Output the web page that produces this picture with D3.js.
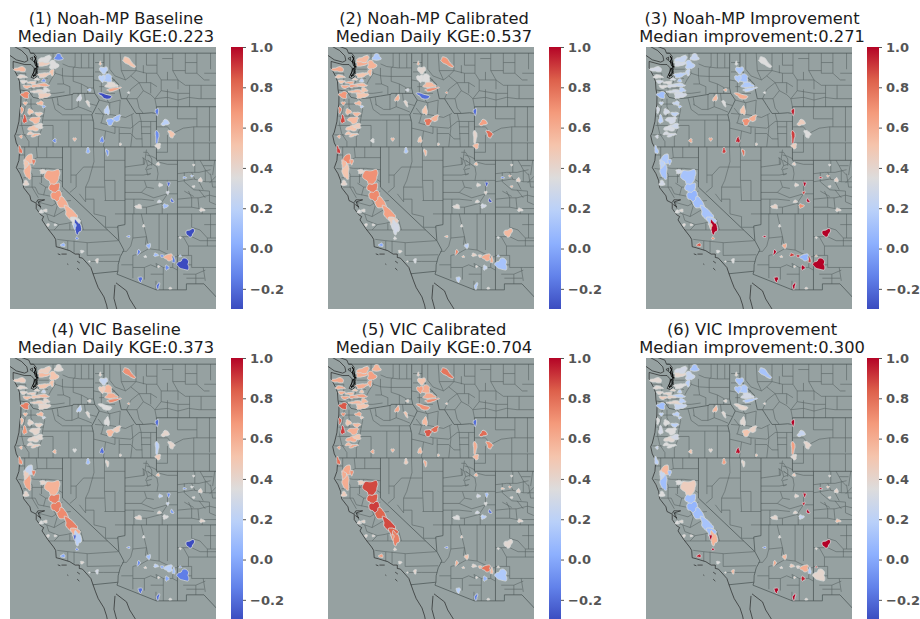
<!DOCTYPE html>
<html>
<head>
<meta charset="utf-8">
<script src="https://cdn.jsdelivr.net/npm/d3@7"></script>
<style>
  html, body { margin: 0; padding: 0; background: #fff; overflow: hidden; }
  .title { font-family: "DejaVu Sans", sans-serif; font-size: 16.3px; fill: #1c1c1c; text-anchor: middle; }
  .cbar text { font-family: "DejaVu Sans", sans-serif; font-weight: bold; font-size: 13px; fill: #555; }
  .cbar line { stroke: #555; }
  .cbar path { display: none; }
</style>
</head>
<body>
<div id="chart"></div>
<script>
var titles = [
  ["(1) Noah-MP Baseline", "Median Daily KGE:0.223"],
  ["(2) Noah-MP Calibrated", "Median Daily KGE:0.537"],
  ["(3) Noah-MP Improvement", "Median improvement:0.271"],
  ["(4) VIC Baseline", "Median Daily KGE:0.373"],
  ["(5) VIC Calibrated", "Median Daily KGE:0.704"],
  ["(6) VIC Improvement", "Median improvement:0.300"]
];
var colorbarTicks = [-0.2, 0, 0.2, 0.4, 0.6, 0.8, 1.0];

// basins: lon, lat, half width (deg lon), half height (deg lat), tilt
var basins = [
  [-120.37,48.69,.38,.25,0],[-121.79,48.24,.57,.2,0],[-120.84,48.12,.44,.3,45],[-124.02,47.79,.57,.17,0],[-123.86,47.25,.44,.12,0],
  [-121.79,47.37,.57,.17,-10],[-121.0,47.57,.19,.25,0],[-121.95,46.62,.7,.12,0],[-122.59,46.55,.44,.1,0],[-123.38,46.5,.38,.12,0],
  [-123.54,45.88,.38,.25,0],[-121.79,46.95,.19,.12,0],[-121.79,45.88,.57,.25,0],[-123.54,45.26,.19,.12,0],[-122.11,45.26,.32,.15,0],
  [-123.6,44.06,.19,.32,0],[-123.86,44.76,.13,.25,0],[-122.59,44.01,.48,.25,0],[-122.75,43.39,.51,.2,0],[-122.59,42.89,.44,.1,-15],
  [-121.79,45.01,.16,.1,0],[-123.95,42.77,.13,.12,0],[-124.02,41.77,.16,.3,-15],[-123.16,41.08,.44,.35,40],[-122.75,40.9,.16,.2,0],
  [-123.29,40.16,.32,.55,0],[-123.48,39.29,.25,.2,0],[-121.79,40.16,.38,.15,0],[-120.94,39.78,.7,.55,0],[-120.75,38.91,.5,.4,30],
  [-120.52,38.29,.6,.38,50],[-119.98,37.79,.6,.35,50],[-119.25,37.05,.75,.32,52],[-118.78,36.43,.5,.3,60],[-118.56,36.0,.32,.5,-10],
  [-118.84,36.1,.13,.2,0],[-121.63,37.25,.19,.1,0],[-122.02,37.17,.19,.12,0],[-120.68,36.18,.13,.07,0],[-121.38,36.18,.13,.1,0],
  [-119.95,34.68,.22,.12,0],[-118.62,35.18,.13,.1,0],[-118.14,34.19,.16,.1,0],[-116.71,33.51,.13,.17,0],[-117.44,33.44,.07,.05,0],
  [-118.4,45.63,.19,.25,30],[-117.57,45.26,.13,.25,-25],[-117.44,46.25,.16,.1,0],[-116.4,48.24,.1,.15,0],[-113.7,48.34,.7,.2,40],
  [-116.08,47.74,.38,.25,0],[-115.76,47.12,.51,.3,0],[-115.35,46.62,.57,.2,0],[-115.13,46.3,.63,.12,-12],[-115.92,45.8,.63,.17,20],
  [-115.76,44.71,.25,.3,0],[-115.44,43.89,.38,.25,-40],[-114.81,44.14,.38,.2,-35],[-113.7,46.05,.1,.07,0],[-116.24,42.52,.19,.22,0],
  [-114.49,42.2,.1,.1,0],[-118.84,42.57,.16,.12,0],[-120.75,42.47,.16,.15,0],[-117.57,41.72,.16,.22,0],[-115.73,41.6,.13,.25,-15],
  [-111.0,44.63,.16,.25,0],[-110.21,43.81,.38,.2,-25],[-109.63,42.97,.25,.3,-30],[-111.0,42.77,.16,.5,0],[-110.9,42.07,.25,.2,0],
  [-110.9,40.73,.16,.12,0],[-110.68,39.16,.19,.12,0],[-109.89,39.24,.13,.17,0],[-109.57,37.99,.13,.17,-30],[-110.78,37.92,.19,.1,0],
  [-110.21,37.59,.25,.15,0],[-109.98,38.59,.13,.12,0],[-112.75,37.54,.32,.15,0],[-108.37,39.71,.16,.07,0],[-107.67,39.83,.13,.07,0],
  [-107.51,39.04,.13,.07,0],[-106.87,39.53,.19,.15,0],[-106.71,37.3,.25,.12,0],[-107.51,40.65,.1,.07,0],[-113.7,35.31,.16,.07,0],
  [-112.27,36.1,.1,.1,0],[-107.83,35.6,.44,.25,-40],[-108.78,35.23,.1,.07,0],[-108.46,33.24,.54,.42,0],[-108.78,33.86,.1,.07,0],
  [-112.75,34.14,.13,.2,15],[-111.79,34.61,.19,.17,0],[-112.11,33.81,.13,.07,0],[-111.1,33.94,.22,.12,0],[-110.52,33.86,.16,.1,0],
  [-109.89,33.76,.38,.25,0],[-109.41,33.56,.13,.25,0],[-110.05,32.99,.19,.17,0],[-112.59,32.12,.19,.2,0],[-110.9,31.62,.13,.25,15],
  [-109.73,31.45,.13,.07,0],[-110.84,33.07,.1,.07,0],
  [-121.63,48.54,.6,.22,-15],[-122.27,46.13,.7,.12,0],[-121.57,46.25,.3,.18,0],[-123.7,46.87,.3,.12,0],[-122.9,46.8,.4,.1,0],
  [-122.43,47.05,.25,.08,0],[-123.06,44.63,.28,.2,0],[-122.27,44.46,.35,.15,0],[-122.2,43.56,.35,.2,0],[-123.06,43.0,.3,.12,0],
  [-123.48,40.73,.22,.28,0],[-116.24,47.12,.3,.25,0]
];

var noahBaseKge = [
  -.1,.45,.35,.55,.4, .45,.5,.6,.55,.55, .72,-.05,.45,.55,.55, .85,.65,.55,.5,.55,
  .05,.6,.78,.55,.75, .58,.4,.4,.62,.72, .68,.6,.58,.35,-.28, .1,.38,.35,.35,.38,
  .05,-.1,.35,.38,.35, .3,.38,.1,.5,.5, .2,.15,.38,.62,-.3, .2,.05,.1,.35,-.1,
  .4,.55,-.1,.05,-.05, -.15,.2,.5,-.1,.38, .38,.35,-.2,-.2,.3, .1,.3,.38,0,.1,
  .38,.4,.38,.4,-.05, .38,-.3,.38,-.3,.05, -.15,.05,.35,.1,-.1, .58,-.15,-.1,-.2,-.2,
  .4,.4,
  .35,.4,.35,.38,.45, .38,.5,.45,.38,.45, .5,.2
];
var noahCalKge = [
  .15,.6,.58,.62,.5, .5,.55,.55,.65,.6, .68,.2,.5,.6,.55, .88,.75,.55,.5,.5,
  .2,.6,.9,.72,.65, .5,.4,.4,.7,.75, .72,.65,.65,.45,.3, .3,.38,.35,.38,.38,
  0,.35,.38,.32,.4, .58,.4,.3,.55,.68, .38,.35,.55,.72,-.2, .5,.78,.58,.68,.5,
  .45,.55,.35,.15,.55, -.2,.65,.8,.4,.55, .5,.38,-.25,-.3,.38, .3,.4,.38,-.1,.6,
  .55,.42,.38,.42,.55, .38,.55,.35,.12,.1, .72,.2,.5,.42,.45, .6,.6,.25,.2,.15,
  .38,.4,
  .55,.55,.5,.5,.6, .45,.55,.55,.45,.5, .55,.35
];
var noahGain = [
  .25,.3,.2,.3,.35, .2,.25,.25,.3,.35, .1,.15,.3,.25,.25, .2,.3,.3,.32,.3,
  .15,.3,.15,.15,.1, .12,.3,.3,.12,.1, .05,.1,.12,.15,1, .55,.38,.35,.38,.38,
  .85,.7,.35,.35,.4, .55,.35,.6,.35,.35, .15,.12,.15,.2,.6, .5,.7,.6,.35,.95,
  .42,.62,.6,.9,.8, .95,.45,.35,.9,.45, .42,.4,1,1,.4, .7,.9,.42,.95,.6,
  .4,.42,.4,.38,1, .38,1,.4,1,.6, 1,.6,.45,.9,.95, .05,.9,1,1,1,
  .42,.42,
  .25,.3,.2,.3,.35, .3,.3,.22,.28,.32, .2,.15
];
var vicBaseKge = [
  .38,.55,.5,.45,.4, .5,.5,.55,.5,.52, .75,.25,.4,.55,.55, .68,.55,.4,.4,.45,
  .3,.55,.7,.25,.75, .62,.4,.4,.58,.75, .75,.72,.75,.6,.2, -.2,.38,.35,.38,.38,
  0,-.1,.38,.3,.35, .2,.38,.4,.4,.7, .25,.55,.6,.72,.35, .35,.55,.45,.6,-.2,
  .4,.35,.55,.1,.4, -.2,.4,.4,.2,.45, .5,.2,-.1,-.05,.4, .35,.25,.4,-.05,.35,
  .38,.4,.4,.38,-.05, .35,-.3,.38,-.15,-.1, -.1,.1,.4,.2,0, .2,.1,0,-.2,-.2,
  .38,.4,
  .45,.45,.4,.4,.45, .4,.4,.42,.38,.4, .45,.45
];
var vicCalKge = [
  .58,.6,.65,.62,.6, .6,.62,.65,.65,.62, .85,.5,.5,.7,.6, .9,.85,.6,.6,.62,
  .45,.65,.8,.62,.7, .6,.45,.45,.88,.85, .9,.82,.88,.82,.75, .7,.42,.38,.4,.4,
  .65,.4,.38,.4,.4, .62,.5,.42,.45,.78, .5,.6,.62,.72,.7, .55,.85,.8,.45,.55,
  .5,.55,.6,.45,.6, -.2,.8,.7,.6,.55, .55,.3,.1,-.2,.3, .2,.35,.35,.5,.6,
  .4,.4,.4,.4,-.1, .45,.38,.38,.15,.4, .58,.5,.45,.4,.55, .78,.55,.05,.18,-.15,
  .4,.4,
  .6,.55,.55,.6,.55, .5,.5,.55,.5,.55, .6,.65
];
var vicGain = [
  .12,.4,.25,.38,.38, .35,.2,.2,.42,.45, .1,.2,.25,.2,.2, .3,.35,.35,.38,.35,
  .2,.25,.2,.55,.1, .1,.35,.35,.45,.1, .05,.1,.12,.1,.58, 1,.38,.35,.38,.38,
  .95,.98,.35,.55,.4, .55,.38,.4,.4,.12, .12,.15,.3,.15,.4, .38,.5,.42,.4,.98,
  .5,.4,.5,.65,.4, 1,.25,.4,.65,.38, .45,.4,.98,1,.4, .25,.95,.4,.98,.5,
  .42,.4,.5,.4,-.1, .38,1,.4,.4,.9, .6,.55,.4,.45,.4, .6,.15,.95,1,1,
  .4,.42,
  .3,.4,.2,.38,.4, .4,.35,.2,.3,.35, .25,.12
];
var panelValues = [noahBaseKge, noahCalKge, noahGain, vicBaseKge, vicCalKge, vicGain];

// coast and islands, drawn black
var coastLines = [
  [[-124.7,48.38],[-124.7,47.9],[-124.3,47.3],[-124.1,46.9],[-124.05,46.3],[-123.95,45.9],[-123.97,45.2],[-124.07,44.6],[-124.15,43.9],[-124.4,43.1],[-124.55,42.84],[-124.4,42.3],[-124.2,42],[-124.1,41.5],[-124.15,41],[-124.4,40.45],[-124.05,40],[-123.8,39.5],[-123.7,38.95],[-123.1,38.35],[-123,38],[-122.5,37.8],[-122.5,37.4],[-122.1,36.95],[-121.8,36.8],[-121.95,36.55],[-121.4,35.9],[-120.85,35.35],[-120.65,35.1],[-120.6,34.55],[-120.2,34.47],[-119.3,34.25],[-118.8,34],[-118.4,34],[-118.4,33.75],[-118.1,33.7],[-117.3,33],[-117.1,32.55],[-116.85,32],[-116.6,31.5],[-116.05,30.8],[-115.8,30.2],[-115.7,29.8]],
  [[-125,48.83],[-124.4,48.5],[-123.6,48.33],[-123.3,48.45],[-123.4,48.8],[-123.9,49.2],[-124.6,49.5]],
  [[-123.9,49.5],[-123.2,49.3],[-123.05,49],[-122.75,49],[-122.5,48.75],[-122.6,48.4],[-122.3,48.1],[-122.4,47.7],[-122.4,47.3],[-122.7,47.1],[-123,47.2],[-122.7,47.6],[-122.7,47.9],[-123,48.15],[-123.6,48.15],[-124.7,48.38]],
  [[-123.1,48.6],[-122.85,48.7],[-122.85,48.45],[-123.1,48.6]],
  [[-122.5,37.85],[-122.35,38.05],[-122,38.05],[-121.7,38.05],[-122.3,37.9],[-122.2,37.6],[-122.05,37.5],[-122.4,37.7]],
  [[-120.45,34.02],[-120.2,33.95]],[[-120.1,34],[-119.6,34]],[[-119.55,33.27],[-119.45,33.22]],[[-118.6,33.47],[-118.35,33.33]],[[-118.6,32.95],[-118.4,32.8]],
  [[-115,31.7],[-115.1,30.7],[-114.8,29.8]],
  [[-114.9,31.85],[-113.9,31.25],[-113.6,30.65],[-113,29.9]]
];

// the inlets of Puget Sound, a bit heavier than the open coast
var pugetLines = [
  [[-122.7,48.4],[-122.5,48.2],[-122.35,47.95],[-122.55,48.05],[-122.7,48.4]],
  [[-122.6,47.9],[-122.45,47.6],[-122.6,47.3],[-122.85,47.35],[-122.6,47.9]],
  [[-122.75,48.35],[-122.55,48.6],[-122.7,48.8],[-122.5,48.45],[-122.45,48],[-122.55,47.55],[-122.8,47.2]]
];

var stateLines = [
  [[-123.05,49],[-105,49]],
  [[-124,46.25],[-123.2,46.15],[-122.8,45.7],[-122.2,45.6],[-121.2,45.65],[-120,45.8],[-119,45.93],[-118.98,46],[-116.92,46]],
  [[-117.03,49],[-117.04,46.4],[-116.92,46],[-116.5,45.5],[-116.8,45],[-117.2,44.4],[-117.03,43.8],[-117.03,42]],
  [[-124.2,42],[-111.05,42]],
  [[-120,42],[-120,39],[-114.63,35],[-114.15,34.3],[-114.5,33.8],[-114.7,33.2],[-114.72,32.72]],
  [[-117.12,32.53],[-114.72,32.72],[-114.81,32.5],[-111.07,31.33],[-108.2,31.33],[-108.2,31.78],[-106.53,31.78],[-105,30.5]],
  [[-114.05,42],[-114.05,36.2],[-114.74,36.1],[-114.63,35]],
  [[-114.05,37],[-105,37]],
  [[-109.05,41],[-109.05,31.33]],
  [[-111.05,45],[-111.05,41],[-105,41]],
  [[-111.05,45],[-105,45]],
  [[-116.05,49],[-116.05,48],[-115.7,47.5],[-114.7,46.7],[-114.4,45.6],[-113.9,45.6],[-113.5,45.1],[-113,44.5],[-112.3,44.5],[-111.5,44.55],[-111.05,44.5]]
];

var countyLines = [
  // washington
  [[-120.9,49],[-120.9,48.3],[-120.7,47.5],[-121.1,47],[-121.5,46.4],[-121.4,45.7]],
  [[-118.8,49],[-118.8,48],[-118.98,47.9],[-118.98,46.9],[-118.2,46.7],[-117.5,46.4],[-117.04,46.4]],
  [[-118.2,49],[-118.2,47.9]],[[-117.5,49],[-117.5,47.9]],
  [[-120,48.2],[-119.4,48],[-118.3,47.9],[-117.04,47.9]],
  [[-120,47.9],[-120,47.3],[-119.9,46.7],[-119.3,46.5],[-119.3,45.93]],
  [[-118.98,47.26],[-117.04,47.26]],[[-120.7,47.5],[-119.9,47.3],[-118.98,47.26]],
  [[-122.3,48.3],[-120.9,48.3]],[[-122.3,47.8],[-121.3,47.8]],[[-122.6,46.4],[-121.5,46.4]],
  [[-123.5,46.4],[-122.9,46.4],[-122.9,45.9]],[[-123.5,47.5],[-123.5,46.4]],[[-124.4,47.5],[-123.5,47.5]],
  [[-122.3,47.3],[-121.4,47.1]],[[-122.6,46.4],[-122.3,47.05],[-122.3,47.3]],[[-120.5,46.7],[-119.9,46.7]],[[-121.5,46],[-120.7,46],[-119.8,46.1]],
  [[-118.2,46.7],[-118.2,46]],[[-117.6,46.4],[-117.6,46]],
  // oregon
  [[-122,45.6],[-121.7,44.8],[-121.9,44],[-122,43.3],[-122.3,42.7],[-122.3,42]],
  [[-123.4,46.1],[-123.5,45.2],[-123.7,44.5],[-123.9,43.7],[-123.7,43],[-123.2,42.4],[-123.2,42]],
  [[-123.9,45.2],[-122.2,45.2]],[[-124,44.3],[-121.8,44.3]],[[-124.1,43.6],[-120.9,43.6]],[[-124.4,42.9],[-122.3,42.9]],
  [[-123,45.6],[-123,45],[-122.8,44.7],[-123,44.3]],
  [[-121,45.65],[-120.7,44.8],[-120,44.4],[-119,44.4],[-118.3,44.4],[-117.2,44.4]],
  [[-121.9,44],[-119.9,44],[-118.2,44],[-117.03,44]],
  [[-120.9,43.6],[-120.9,42]],[[-119.4,44],[-119.4,42]],[[-118.2,44.4],[-118.2,42]],
  [[-119.1,45.93],[-119.1,44.8],[-119.7,44.8],[-120.5,45.2]],[[-118.5,46],[-118.5,45],[-119.1,44.8]],[[-117.9,46],[-117.8,45.3],[-116.8,45.1]],
  [[-118.5,45],[-117.8,44.8],[-117.2,44.6]],[[-120.5,45.7],[-120.4,45.1]],
  // california
  [[-123.6,42],[-123.6,41],[-123.4,40.3],[-122.9,40],[-122.9,39],[-122.3,38.2]],
  [[-124.1,41.4],[-123.6,41.4]],[[-124.2,40.4],[-123.4,40.3]],[[-123.7,39.7],[-122.9,39.7]],[[-123.6,39],[-122.6,39]],
  [[-122.5,42],[-122.4,41.2],[-121.4,41.2],[-120,41.2]],
  [[-123,40.45],[-122.6,40.4],[-121.4,40.4],[-120,40.3]],[[-122.9,39.8],[-121.9,39.8],[-121,39.9],[-120,39.4]],
  [[-122.2,39.3],[-121.6,39],[-120.5,39]],[[-122.3,38.5],[-121,38.3],[-120,38.7]],[[-122.4,37.9],[-121,37.6],[-120.4,37.9],[-119.2,38]],
  [[-122.2,37.2],[-121.5,37],[-120.8,36.8],[-119.5,37.4]],[[-121.3,36.5],[-120.3,36.2],[-119.5,36.3],[-118.3,36.6]],
  [[-121.3,35.8],[-119.9,35.8],[-118,35.8],[-115.7,35.8]],[[-120.5,35.1],[-119.5,35],[-117.6,34.85],[-114.7,35]],
  [[-118.9,35],[-118.9,34.1]],[[-117.65,34.85],[-117.65,33.9]],[[-119.5,35],[-119.5,34.3]],[[-117.3,33.45],[-116.1,33.45],[-114.6,33.45]],
  [[-117.65,33.9],[-114.5,33.95]],[[-121.8,38.4],[-121.6,39]],[[-121,38.3],[-120.5,37.6],[-120.8,36.8]],[[-120.3,36.2],[-120.8,35.8]],
  [[-120.7,39.9],[-120.6,39]],[[-121.6,40.4],[-121.9,39.8]],[[-119.5,37.4],[-119.9,38]],[[-118.3,36.6],[-118,35.8]],[[-119.3,36.3],[-119.3,35.8]],
  [[-121.5,42],[-121.5,41.2]],[[-123,41],[-122.4,41.2]],[[-122,40.4],[-122,39.3]],[[-122.3,38.5],[-122.6,39]],[[-122.2,37.9],[-122,37.2]],[[-121.5,37],[-121.3,36.5]],
  // nevada
  [[-119.2,42],[-119.2,39.3]],[[-117.05,42],[-117,40.9],[-117.5,39.5],[-117.8,39]],[[-116,42],[-116,39.5],[-115.9,38]],
  [[-119.2,39.9],[-118.7,39.9],[-118,40.5],[-117,40.5],[-116,40.5]],[[-116,39.5],[-115,39.5],[-115,38],[-114.05,38]],
  [[-117.8,39],[-117.8,37.9],[-118.4,38.5]],[[-117.8,39],[-116,39]],[[-116,38],[-115,38]],[[-117.8,38.1],[-117,38.1],[-117,37],[-115.9,36.8],[-115.9,36],[-114.7,36]],
  [[-118.7,39.9],[-118.7,39]],[[-118.7,39],[-119.3,38.6]],[[-115,41],[-114.05,41]],[[-116,41],[-115,41]],[[-115,37],[-114.05,37]],
  // idaho
  [[-116.3,46],[-115,46]],[[-117.04,47],[-116.3,46.9],[-115,47]],[[-116.9,47.6],[-116.05,47.6]],[[-116.5,45.5],[-115.5,45.3],[-114.5,45.5]],
  [[-116.9,44.5],[-115.3,44.4],[-114,44.2],[-113.2,44.5]],[[-116.4,43.8],[-115,43.5],[-113.5,43.4],[-112.7,43.9],[-111.05,43.9]],
  [[-116.1,42],[-115.9,43.2],[-115,43],[-115,43.5]],[[-114.6,42],[-114.6,43.4]],[[-113.5,42],[-113.3,43.4],[-113.4,44.4]],
  [[-112.4,42],[-112.5,43.9],[-112.7,44.5]],[[-111.6,42],[-111.6,43.9]],[[-117,43.4],[-115.9,43.2]],[[-116.1,44.4],[-116.3,43.8]],[[-114.5,45.5],[-114.6,44.4]],
  [[-116.3,46.9],[-116.3,46]],[[-115.5,44.4],[-115.5,45.3]],[[-114.6,43],[-113.5,43]],[[-112.5,43],[-111.6,43]],
  [[-116.9,48.3],[-116.05,48.3]],[[-116.5,46.5],[-115.6,46.5]],[[-116.6,44.9],[-116.1,44.4]],[[-116,45.9],[-115.6,45.3]],[[-113.5,43],[-113,42.6],[-112.4,42.6]],[[-112.5,43.5],[-111.6,43.5]],
  // montana
  [[-115.5,49],[-115.5,47.8],[-115,47.3],[-114,47]],[[-114.5,49],[-114.4,47.7],[-114,47]],
  [[-113,49],[-113,47.7],[-113.5,47.3],[-112.7,46.8],[-112.3,46.2],[-112.9,45.6],[-113.9,45.6]],
  [[-112,49],[-112,48.1],[-111,48.1]],[[-111,49],[-111,47.5],[-110.6,47],[-110.6,46.2],[-111.2,45.6],[-111.05,45]],
  [[-109.5,49],[-109.5,47.7],[-109,47]],[[-108.3,49],[-108.3,47.5],[-107.2,47.5]],[[-107.2,49],[-107.2,47.5],[-106.5,47],[-106,47]],
  [[-110.6,47],[-109,47],[-108.3,46.6],[-107,46.6],[-105,46.6]],[[-112.7,46.8],[-111.6,46.8],[-111,46.5]],
  [[-111.2,45.6],[-110,45.7],[-109,45.5],[-108,45.7],[-107,45.6],[-105,45.6]],[[-110,46.3],[-110,45]],[[-109,46],[-109,45]],[[-107.9,46.6],[-107.9,45]],
  [[-106.5,47.5],[-105,47.5]],[[-105.9,49],[-105.9,47.8]],[[-113,47.7],[-112,47.5],[-111,47.5]],[[-112.3,46.2],[-111.6,45.9],[-111.2,45.6]],
  [[-112.9,45.6],[-112.7,44.9],[-112.3,44.5]],[[-111.6,46.8],[-111.6,46]],[[-110.6,46.2],[-109,46],[-107.9,46]],[[-109.5,47.7],[-108.3,47.7]],
  [[-114.4,47.7],[-113,47.7]],[[-114,47],[-113.5,47.3]],[[-113.9,45.6],[-113.5,46.3],[-112.7,46.8]],[[-110,47.6],[-110,47]],[[-112,47.5],[-112,46.8]],[[-109,47],[-109,46.3]],[[-106.8,46.6],[-106.8,45.6]],[[-112.3,48.1],[-112.3,47.5]],[[-110.5,48.6],[-109.5,48.6]],[[-108.3,48.3],[-107.2,48.3]],
  // wyoming
  [[-111.05,43.5],[-110,43.5],[-109.5,43],[-108.5,43.4],[-107.5,43.5],[-105,43.5]],
  [[-109.05,45],[-109.05,44.1],[-107.2,44.1],[-107.2,45]],[[-107.2,44.1],[-107.2,43.5]],[[-106,45],[-106,42.4]],
  [[-111.05,42.3],[-109.05,42.3],[-107.5,42.3],[-107.5,41]],[[-109.05,42.3],[-109.05,41]],[[-110,42.9],[-110,41.6],[-111.05,41.6]],
  [[-107.5,43.5],[-107.5,42.3]],[[-107.5,42.3],[-105.3,42.3]],[[-106,41],[-106,42.3]],
  // utah
  [[-114.05,40.5],[-112.2,40.7],[-112,41.8]],[[-114.05,39.9],[-112.3,39.9],[-111.6,40]],[[-114.05,39.5],[-112.2,39.5],[-111.3,39.5],[-110,39.5],[-109.05,39.5]],
  [[-114.05,38.6],[-112.5,38.6],[-111.3,38.2],[-110,38.5],[-109.05,38.5]],[[-114.05,38.1],[-112.5,38.1]],[[-113.2,37.5],[-112,37.5],[-110.5,37.8]],
  [[-111,40.9],[-110,40.7],[-109.05,40.7]],[[-111.9,41],[-111,40.5]],[[-112.2,39.5],[-112,39],[-112.5,38.6]],[[-110,39.5],[-110,38.5],[-110.6,37.8]],
  [[-111,39.5],[-110.9,40],[-111,40.5]],[[-112.4,41.2],[-112,41],[-111.9,40.6],[-112.1,40.3]],[[-111.9,41.6],[-111.5,41.1],[-111.5,40.6]],[[-112,41.4],[-111.5,41.3],[-111,41.1]],
  [[-111.9,40.6],[-111.5,40.7]],[[-111.6,40],[-111.9,39.9],[-112,40.3],[-111.5,40.4]],[[-112,39],[-111.3,38.9]],[[-112.5,38.1],[-111.3,38]],[[-113.2,38.1],[-113.2,37]],[[-112,37.5],[-112,37]],[[-110.5,37.8],[-110.5,37]],
  [[-112.3,41.6],[-111.9,41.6]],[[-112.3,40.7],[-112.3,41.2]],[[-111.7,40.9],[-111.9,41]],
  // colorado
  [[-109.05,40],[-108,40.1],[-107,40.1],[-105.9,40.3]],[[-107.4,41],[-107.4,40.1]],[[-106.9,41],[-106.4,40.3],[-105.9,39.9]],
  [[-109.05,39.4],[-107.5,39.6],[-106.4,39.4],[-105.4,39.4]],[[-108.4,39.4],[-107.5,38.8],[-106,38.7]],[[-107,39.4],[-106.6,38.8]],
  [[-109.05,38.1],[-107.7,38.2],[-107,38.2],[-106,38.4]],[[-108,38.7],[-107.7,38.2],[-107.7,37.5]],[[-109.05,37.5],[-107.7,37.5],[-107,37.4],[-106.7,37.4],[-105,37.4]],
  [[-107.1,38.2],[-107,37.4]],[[-106,38.4],[-105,38.2]],[[-105.9,40],[-105.7,39]],[[-105.5,41],[-105.7,39.9]],[[-106.4,39.4],[-106.4,40.3]],
  [[-106,39.3],[-105.4,39.8]],[[-106.7,37.4],[-106.7,37]],[[-106,38.7],[-106,37.9],[-105.4,37.7]],[[-108.4,39.4],[-108.4,40.1]],[[-108.4,38.7],[-107.5,38.3]],[[-107.7,40.1],[-107.4,39.6]],
  [[-106.6,40.6],[-105.7,40.6]],[[-107,38.8],[-106.4,38.2]],[[-105.7,39],[-105,39]],
  // arizona
  [[-113.3,37],[-113.3,35.2],[-113.5,34.6],[-113.9,34.2],[-114.3,34.2]],[[-112.5,37],[-112,35.3],[-112.1,34.7]],[[-113.3,35.2],[-112,35.3],[-111.8,34.4],[-112.7,34]],
  [[-110.8,37],[-110.8,34.3]],[[-110,37],[-110,34.3]],[[-111.8,34.4],[-110.8,34.3],[-109.5,33.8],[-109.05,33.8]],
  [[-113.3,33.9],[-113.3,33],[-112.2,33],[-111.6,33.2],[-111,33]],[[-114.4,33.2],[-113.3,33.2]],[[-112.2,33],[-112.2,32.1]],
  [[-111.1,33.3],[-110.4,33],[-110.4,32],[-110.4,31.33]],[[-111.6,32.5],[-110.4,32.5]],[[-109.5,33.8],[-109.5,33],[-110.4,33]],[[-111.1,32],[-111.1,31.33]],
  [[-112.7,34],[-113.3,33.9]],[[-113.3,33],[-113.3,32.2]],[[-109.5,33],[-109.05,32.8]],[[-111,33],[-111.1,33.3]],
  // new mexico
  [[-107.7,37],[-107.7,36],[-106.9,35.8],[-106.2,35.2],[-105,35.2]],[[-108.5,35.3],[-109.05,35.3]],[[-108.5,35.3],[-107.7,35.3],[-106.9,35],[-105,35]],
  [[-108,34.6],[-107.7,34.6],[-105,34.6]],[[-109.05,33.9],[-107.7,33.9],[-107.7,33],[-106.4,33],[-105,33]],[[-108.2,33.2],[-107.7,33.2]],
  [[-108.5,32.5],[-107.3,32.5],[-106.4,32.8]],[[-108.2,32.2],[-107,32.2],[-106.5,32.2]],[[-106.6,33],[-106.4,32]],[[-108.5,35.3],[-108,34.6],[-108,33.9]],
  [[-107.3,32.5],[-107.3,31.78]],[[-105.9,35.2],[-105.9,37]],[[-106.5,36.2],[-105.4,36.2]],[[-106.2,35.2],[-106.2,34.6]]
];

var coolwarmStops = ["#3b4cc0", "#6282ea", "#8db0fe", "#b9d0f9", "#dddcdc", "#f5c4ac", "#f49a7b", "#dd604b", "#b40426"];

var width = 920, height = 619;
var mapWidth = 206, mapHeight = 262;
var colsX = [10, 328, 646];
var rowsY = [47, 358];
var titleCentre = 106;
var barOffset = 221, barWidth = 12;
var landColor = "#96a1a1";

var svg = d3.select("#chart").append("svg")
  .attr("width", width)
  .attr("height", height)
  .style("display", "block");

var defs = svg.append("defs");

defs.append("clipPath").attr("id", "map-clip")
  .append("rect").attr("width", mapWidth).attr("height", mapHeight);

defs.append("filter").attr("id", "soft")
  .attr("x", "-5%").attr("y", "-5%").attr("width", "110%").attr("height", "110%")
  .append("feGaussianBlur").attr("stdDeviation", 0.4);

var gradient = defs.append("linearGradient").attr("id", "coolwarm")
  .attr("x1", 0).attr("y1", 1).attr("x2", 0).attr("y2", 0);
gradient.selectAll("stop").data(coolwarmStops).enter().append("stop")
  .attr("offset", function(d, i) { return (i / (coolwarmStops.length - 1) * 100) + "%"; })
  .attr("stop-color", function(d) { return d; });

var x = d3.scaleLinear().domain([-125, -105.38]).range([0, mapWidth]);
var y = d3.scaleLinear().domain([49.46, 29.9]).range([0, mapHeight]);
var kgeBar = d3.scaleLinear().domain([1, -0.3]).range([0, mapHeight]);

var color = d3.scaleLinear()
  .domain(coolwarmStops.map(function(d, i) { return -0.3 + 1.3 * i / (coolwarmStops.length - 1); }))
  .range(coolwarmStops)
  .clamp(true);

var line = d3.line()
  .x(function(d) { return x(d[0]); })
  .y(function(d) { return y(d[1]); });

var outline = d3.line().curve(d3.curveCardinalClosed);

// basin outline: an ellipse with a lumpy edge so the shapes don't look like stamps
function basinPath(d, i) {
  var rx = x(d[0] + d[2]) - x(d[0]);
  var ry = y(d[1] - d[3]) - y(d[1]);
  var pts = d3.range(14).map(function(k) {
    var a = k / 14 * 2 * Math.PI;
    var f = 1 + 0.2 * Math.sin(3 * a + i * 1.7) + 0.1 * Math.sin(5 * a + i * 2.9);
    return [rx * f * Math.cos(a), ry * f * Math.sin(a)];
  });
  return outline(pts);
}

function drawLines(map, name, data, stroke, strokeWidth) {
  map.selectAll("." + name).data(data).enter().append("path")
    .attr("class", name)
    .attr("d", line).attr("fill", "none")
    .attr("stroke", stroke).attr("stroke-width", strokeWidth);
}

function drawPanel(values, panelTitle, col, row) {
  var left = colsX[col], top = rowsY[row];
  var panel = svg.append("g").attr("transform", "translate(" + left + "," + top + ")");

  // two line title above the map
  panel.append("text").attr("class", "title")
    .attr("x", titleCentre).attr("y", -23)
    .text(panelTitle[0]);
  panel.append("text").attr("class", "title")
    .attr("x", titleCentre).attr("y", -5)
    .text(panelTitle[1]);

  var clipped = panel.append("g").attr("clip-path", "url(#map-clip)");
  var map = clipped.append("g").attr("filter", "url(#soft)");

  map.append("rect")
    .attr("width", mapWidth).attr("height", mapHeight)
    .attr("fill", landColor);

  drawLines(map, "county", countyLines, "#5a6464", 0.6);
  drawLines(map, "state", stateLines, "#465050", 0.7);
  drawLines(map, "coast", coastLines, "#111", 0.6);
  drawLines(map, "puget", pugetLines, "#000", 0.8);

  map.selectAll(".basin").data(basins).enter().append("path")
    .attr("class", "basin")
    .attr("transform", function(d) {
      return "translate(" + x(d[0]) + "," + y(d[1]) + ") rotate(" + d[4] + ")";
    })
    .attr("d", basinPath)
    .attr("fill", function(d, i) { return color(values[i]); })
    .attr("stroke", "#d5d9d9").attr("stroke-width", 0.8);

  // colorbar
  var bar = panel.append("g").attr("class", "cbar")
    .attr("transform", "translate(" + barOffset + ",0)");
  bar.append("rect")
    .attr("width", barWidth).attr("height", mapHeight)
    .attr("fill", "url(#coolwarm)");
  bar.append("g")
    .attr("transform", "translate(" + barWidth + ",0)")
    .call(d3.axisRight(kgeBar).tickValues(colorbarTicks).tickSize(3).tickPadding(4).tickFormat(d3.format(".1f")));
}

titles.forEach(function(t, i) {
  drawPanel(panelValues[i], t, i % 3, Math.floor(i / 3));
});
</script>
</body>
</html>
